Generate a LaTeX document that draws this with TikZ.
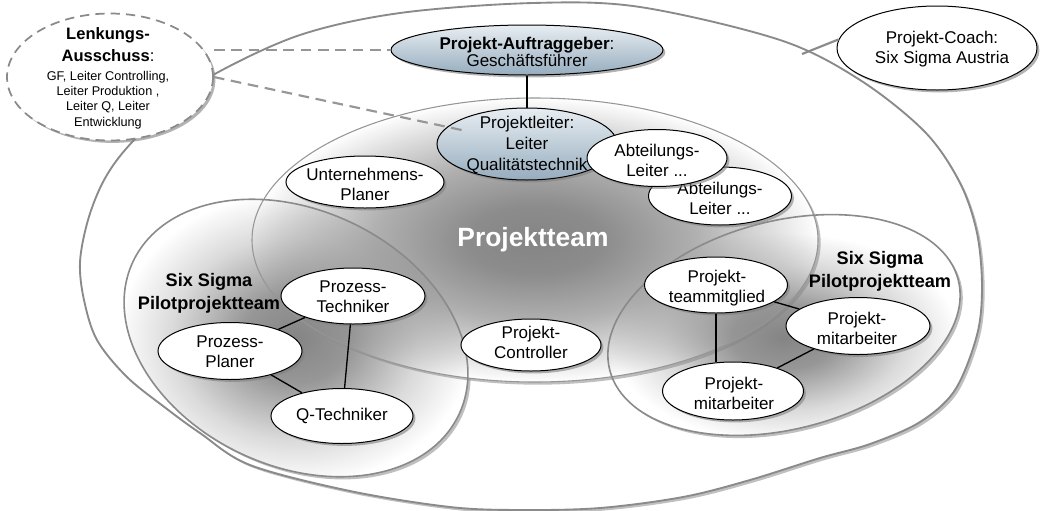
\documentclass[tikz,border=0pt]{standalone}
\usepackage{fontspec}
\setmainfont{Liberation Sans}
\usetikzlibrary{shapes.geometric,shadows,fadings}

% broad radial fading for the project team: opaque centre (white), transparent rim (black)
\pgfdeclareradialshading{softcentreshade}{\pgfpointorigin}{%
  color(0bp)=(white);
  color(6bp)=(black!6);
  color(14bp)=(black!35);
  color(21bp)=(black!75);
  color(25bp)=(black);
  color(50bp)=(black)}
\pgfdeclarefading{softcentre}{\pgfuseshading{softcentreshade}}

% tighter radial fading for the pilot teams
\pgfdeclareradialshading{pilotglowshade}{\pgfpointorigin}{%
  color(0bp)=(white);
  color(7bp)=(black!15);
  color(16bp)=(black!70);
  color(23bp)=(black);
  color(50bp)=(black)}
\pgfdeclarefading{pilotglow}{\pgfuseshading{pilotglowshade}}

\definecolor{rimgray}{RGB}{138,138,138}
\definecolor{thingray}{RGB}{150,150,150}
\definecolor{blueTop}{RGB}{232,238,242}
\definecolor{blueBot}{RGB}{150,172,190}

\tikzset{
  ring/.style={draw=rimgray, line width=1.4pt},
  ringshadow/.style={drop shadow={shadow xshift=2pt, shadow yshift=-2pt, opacity=0.55, fill=black!45}},
  nodeshadow/.style={drop shadow={shadow xshift=1.8pt, shadow yshift=-1.8pt, opacity=0.6, fill=black!50}},
  bubble/.style={ellipse, draw=black, line width=0.75pt, inner sep=0pt, nodeshadow},
  member/.style={bubble, fill=white},
  lead/.style={bubble, top color=blueTop, bottom color=blueBot},
  txt/.style={align=center, inner sep=0pt, font=\fontsize{12.75}{15}\selectfont},
  teamhead/.style={align=center, inner sep=0pt, font=\fontsize{13.6}{17}\selectfont\bfseries},
  link/.style={draw=black, line width=1pt},
  guide/.style={draw=rimgray!90, line width=1.6pt, dash pattern=on 8pt off 5pt},
}

\begin{document}
\begin{tikzpicture}[x=0.75pt, y=-0.75pt]
\useasboundingbox (0,0) rectangle (1040,511);

% ---- outer organisation boundary
\path[fill=white, ringshadow, ring] plot[smooth cycle, tension=0.55] coordinates {
  (80,262) (88,220) (103,182) (125,150) (165,110) (213,75) (300,35) (400,13)
  (533,3) (640,7) (780,40) (860,80) (925,132) (960,183) (977,233) (982,287)
  (977,335) (955,390) (920,422) (870,444) (820,458) (750,480) (683,497)
  (600,508) (520,510) (450,507) (350,491) (250,465) (200,433) (167,409)
  (127,377) (97,340) (84,300)};

% ---- pilot team areas and the project team (white bases)
\begin{scope}[shift={(296,338)}, rotate=-25]
  \path[fill=white, ringshadow] (0,0) ellipse [x radius=180, y radius=128];
\end{scope}
\begin{scope}[shift={(784,325)}, rotate=14.6]
  \path[fill=white, ringshadow] (0,0) ellipse [x radius=180, y radius=104];
\end{scope}
\path[fill=white, ringshadow] (535,240) ellipse [x radius=283, y radius=142];

% ---- grey glows
\fill[black!48, path fading=softcentre] (535,240) ellipse [x radius=283, y radius=142];
\begin{scope}[shift={(296,338)}, rotate=-25]
  \fill[black!48, path fading=pilotglow] (0,0) ellipse [x radius=180, y radius=128];
\end{scope}
\begin{scope}[shift={(784,325)}, rotate=14.6]
  \fill[black!48, path fading=pilotglow] (0,0) ellipse [x radius=180, y radius=104];
\end{scope}

% ---- outlines
\draw[draw=thingray, line width=0.8pt] (535,240) ellipse [x radius=283, y radius=142];
\begin{scope}[shift={(296,338)}, rotate=-25]
  \draw[ring, line width=1.2pt] (0,0) ellipse [x radius=180, y radius=128];
\end{scope}
\begin{scope}[shift={(784,325)}, rotate=14.6]
  \draw[ring, line width=1.2pt] (0,0) ellipse [x radius=180, y radius=104];
\end{scope}

\node[font=\fontsize{19.8}{24}\selectfont\bfseries, text=white, inner sep=0pt] (teamname) at (533,240) {Projektteam};

% ---- steering committee
\node[ellipse, draw=rimgray, line width=1.3pt, dash pattern=on 7pt off 4.5pt, fill=white,
      nodeshadow, inner sep=0pt, minimum width=154.5pt, minimum height=95.25pt] (lenk) at (110,77) {};
\node[align=center, inner sep=0pt, font=\fontsize{12.4}{16.5}\selectfont] (lenkhead) at (108,45)
  {\textbf{Lenkungs-}\\\textbf{Ausschuss}:};
\node[align=center, inner sep=0pt, font=\fontsize{9.5}{11.5}\selectfont] (lenkbody) at (108,100)
  {GF, Leiter Controlling,\\Leiter Produktion ,\\Leiter Q, Leiter\\Entwicklung};

% ---- coach
\node[member, minimum width=150pt, minimum height=63pt] (coach) at (937,48) {};
\node[txt] (coacht) at (942,49) {Projekt-Coach:\\Six Sigma Austria};
\coordinate (rim) at (802,54);
\draw[draw=rimgray, line width=1.6pt] (rim) -- (coach.175);

% ---- sponsor and project lead
\node[lead, minimum width=204pt, minimum height=37.5pt] (auftrag) at (527,50) {};
\node[txt, font=\fontsize{12.75}{12.75}\selectfont] (auftragt) at (527,52)
  {\textbf{Projekt-Auftraggeber}:\\Geschäftsführer};
\node[lead, minimum width=135pt, minimum height=54pt] (pl) at (527,144) {};
\node[txt, font=\fontsize{12.75}{16}\selectfont] (plt) at (527,145)
  {Projektleiter:\\Leiter\\Qualitätstechnik};
\draw[line width=2.2pt] (auftrag.south) -- (pl.north);
\draw[guide] (lenk.east |- auftrag.west) -- (auftrag.west);
\draw[guide, shorten >=49pt] (lenk.east) -- (pl.center);

% ---- department heads
\node[member, minimum width=107.25pt, minimum height=43.5pt] (ab2) at (720,196) {};
\node[txt] (ab2t) at (720,198) {Abteilungs-\\Leiter ...};
\node[member, minimum width=105pt, minimum height=42.75pt] (ab1) at (657,158) {};
\node[txt] (ab1t) at (657,160) {Abteilungs-\\Leiter ...};

% ---- other project team members
\node[member, minimum width=118.5pt, minimum height=39pt] (up) at (365,182) {};
\node[txt] (upt) at (365,184) {Unternehmens-\\Planer};
\node[member, minimum width=105pt, minimum height=39pt] (ctrl) at (531,345) {};
\node[txt] (ctrlt) at (531,342) {Projekt-\\Controller};

% ---- left pilot team
\node[teamhead] (lhead) at (209,293) {Six Sigma\\Pilotprojektteam};
\node[member, minimum width=108pt, minimum height=42pt] (pt) at (353,296) {};
\node[member, minimum width=108pt, minimum height=42.75pt] (pp) at (230,351) {};
\node[member, minimum width=106.5pt, minimum height=41.25pt] (qt) at (342,416) {};
\draw[link] (pt) -- (pp);
\draw[link] (pt) -- (qt);
\draw[link] (pp) -- (qt);
\node[txt] (ptt) at (353,297) {Prozess-\\Techniker};
\node[txt] (ppt) at (230,352) {Prozess-\\Planer};
\node[txt] (qtt) at (342,416) {Q-Techniker};

% ---- right pilot team
\node[teamhead] (rhead) at (880,271) {Six Sigma\\Pilotprojektteam};
\node[member, minimum width=107.25pt, minimum height=42pt] (tm) at (716,285) {};
\node[member, minimum width=108pt, minimum height=42.75pt] (rm) at (858,326) {};
\node[member, minimum width=105.75pt, minimum height=43.5pt] (bm) at (733,391) {};
\draw[link] (tm) -- (rm);
\draw[link] (tm.south) -- (tm.south |- bm.north);
\draw[link] (bm) -- (rm);
\node[txt] (tmt) at (717,288) {Projekt-\\teammitglied};
\node[txt] (rmt) at (857,328) {Projekt-\\mitarbeiter};
\node[txt] (bmt) at (734,393) {Projekt-\\mitarbeiter};
\end{tikzpicture}
\end{document}
